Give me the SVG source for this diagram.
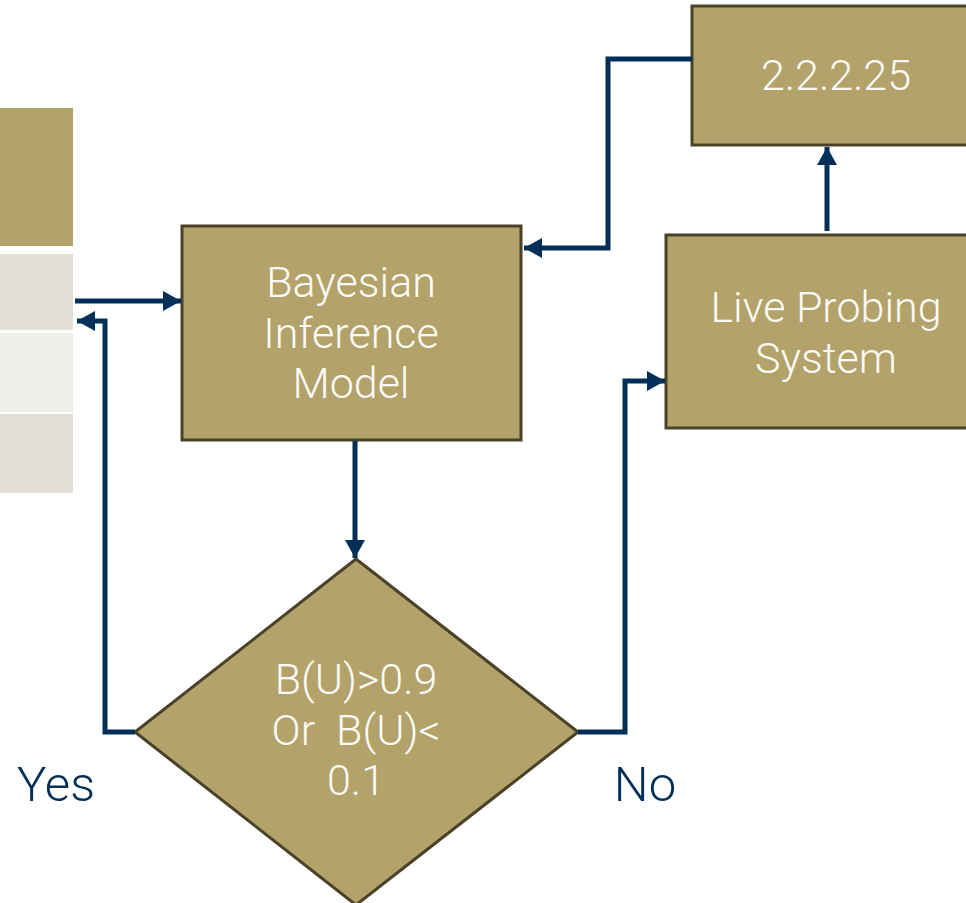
<svg xmlns="http://www.w3.org/2000/svg" width="966" height="903" viewBox="0 0 966 903">
  <style>
    .box { fill: #b3a269; stroke: #4a4228; stroke-width: 3; }
    .lbl { font-family: Roboto, "Liberation Sans", sans-serif; font-weight: 300; font-size: 43px; fill: #fbfaf6; text-anchor: middle; }
    .side { font-family: Roboto, "Liberation Sans", sans-serif; font-weight: 300; font-size: 49px; fill: #003057; text-anchor: middle; }
    .wire { fill: none; stroke: #003057; stroke-width: 5; stroke-linejoin: miter; }
  </style>
  <defs>
    <marker id="arrow" markerUnits="userSpaceOnUse" markerWidth="18" markerHeight="20" viewBox="0 0 18 20" refX="18" refY="10" orient="auto">
      <path d="M0,0 L18,10 L0,20 Z" fill="#003057"/>
    </marker>
  </defs>

  <!-- left-hand stacked panel -->
  <g id="panel">
    <rect x="0" y="108" width="73" height="138" fill="#b3a269"/>
    <rect x="0" y="254" width="73" height="76" fill="#e3dfd4"/>
    <rect x="0" y="333" width="73" height="79" fill="#f0efea"/>
    <rect x="0" y="414" width="73" height="79" fill="#e3dfd4"/>
  </g>

  <g id="bayesian">
    <rect class="box" x="182" y="226" width="339" height="214"/>
    <text class="lbl" x="351" y="297">Bayesian</text>
    <text class="lbl" x="351" y="348">Inference</text>
    <text class="lbl" x="351" y="398">Model</text>
  </g>

  <g id="address">
    <rect class="box" x="692" y="6" width="290" height="139"/>
    <text class="lbl" x="836" y="90">2.2.2.25</text>
  </g>

  <g id="probing">
    <rect class="box" x="666" y="235" width="316" height="193"/>
    <text class="lbl" x="826" y="322">Live Probing</text>
    <text class="lbl" x="826" y="373">System</text>
  </g>

  <g id="decision">
    <polygon class="box" points="356,559 578,732 356,905 135,732"/>
    <text class="lbl" x="356" y="694">B(U)&gt;0.9</text>
    <text class="lbl" x="356" y="745" xml:space="preserve">Or  B(U)&lt;</text>
    <text class="lbl" x="356" y="795">0.1</text>
  </g>

  <g id="labels">
    <text class="side" x="56" y="801">Yes</text>
    <text class="side" x="645" y="801">No</text>
  </g>

  <g id="connectors">
    <path class="wire" d="M75,301 L181,301" marker-end="url(#arrow)"/>
    <path class="wire" d="M135,732 L105,732 L105,321 L77,321" marker-end="url(#arrow)"/>
    <path class="wire" d="M355,441 L355,558" marker-end="url(#arrow)"/>
    <path class="wire" d="M578,732 L625,732 L625,381 L665,381" marker-end="url(#arrow)"/>
    <path class="wire" d="M827,231 L827,147" marker-end="url(#arrow)"/>
    <path class="wire" d="M692,59 L608,59 L608,248 L524,248" marker-end="url(#arrow)"/>
  </g>
</svg>
